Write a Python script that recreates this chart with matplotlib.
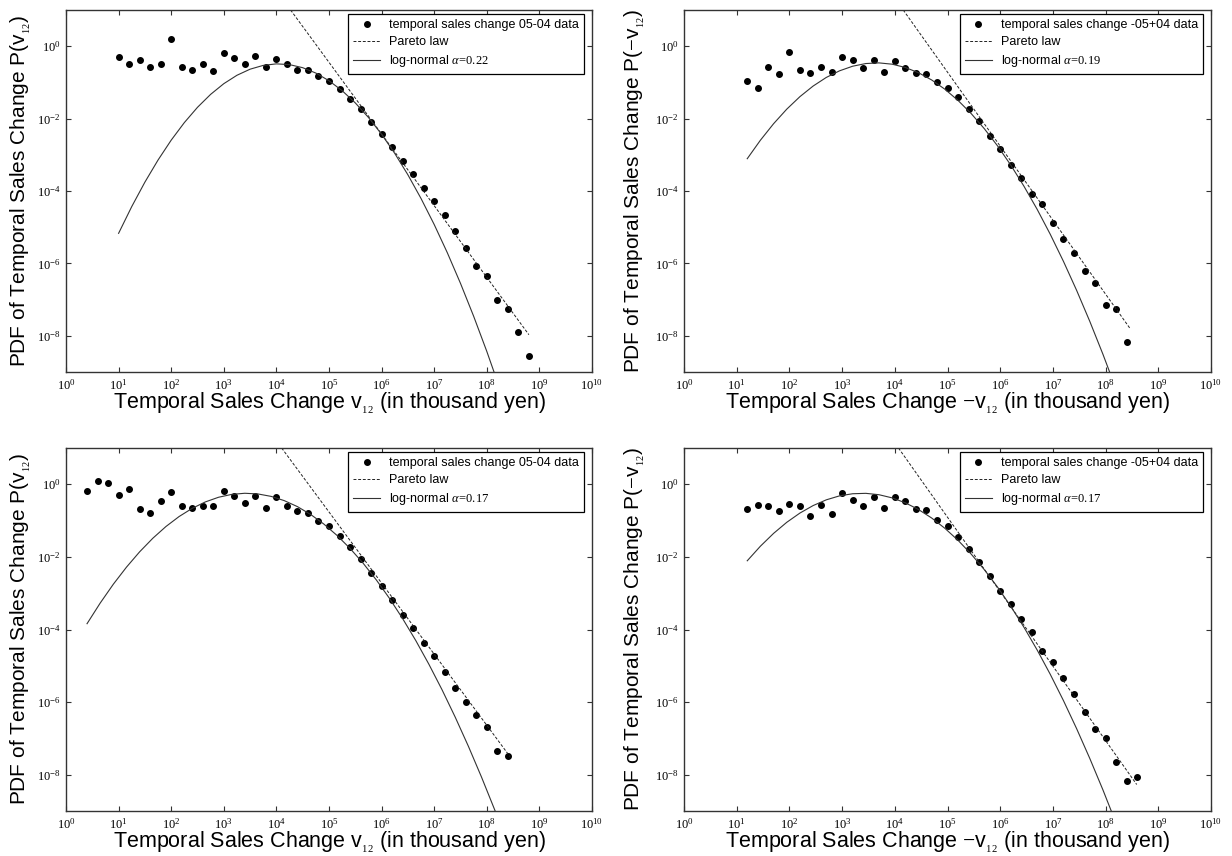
import numpy as np
import matplotlib.pyplot as plt
from matplotlib.ticker import FixedLocator, FuncFormatter, NullLocator

plt.rcParams['font.family'] = ['Liberation Sans', 'DejaVu Sans']
plt.rcParams['mathtext.fontset'] = 'custom'
plt.rcParams['mathtext.rm'] = 'Liberation Serif'
plt.rcParams['mathtext.it'] = 'Liberation Serif:italic'
plt.rcParams['mathtext.bf'] = 'Liberation Serif:bold'

# everything below is log10 of what was read off the picture
# panel a : v12 > 0, 05-04
a_logx = [1.0, 1.2, 1.4, 1.6, 1.8, 2.0, 2.2, 2.4, 2.6, 2.8, 3.0, 3.2, 3.4, 3.6, 3.8, 4.0,
          4.2, 4.4, 4.6, 4.8, 5.0, 5.2, 5.4, 5.6, 5.8, 6.0, 6.2, 6.4, 6.6, 6.8, 7.0, 7.2,
          7.4, 7.6, 7.8, 8.0, 8.2, 8.4, 8.6, 8.8]
a_logp = [-0.285, -0.49, -0.38, -0.58, -0.48, 0.19, -0.58, -0.65, -0.505, -0.68, -0.18, -0.33,
          -0.49, -0.26, -0.58, -0.35, -0.505, -0.65, -0.65, -0.83, -0.95, -1.18, -1.46, -1.745,
          -2.10, -2.42, -2.78, -3.16, -3.535, -3.91, -4.29, -4.67, -5.10, -5.58, -6.06, -6.36,
          -7.01, -7.26, -7.89, -8.57]
a_pareto_x = [4.27, 8.80]
a_pareto_p = [1.0, -7.97]
a_ln_x = [1.0, 1.25, 1.5, 1.75, 2.0, 2.25, 2.5, 2.75, 3.0, 3.25, 3.5, 3.75, 4.0, 4.25, 4.5,
          4.75, 5.0, 5.25, 5.5, 5.75, 6.0, 6.25, 6.5, 6.75, 7.0, 7.25, 7.5, 7.75, 8.0, 8.25]
a_ln_p = [-5.169, -4.430, -3.755, -3.144, -2.595, -2.110, -1.688, -1.330, -1.035, -0.803,
          -0.635, -0.530, -0.488, -0.509, -0.594, -0.742, -0.954, -1.229, -1.567, -1.968,
          -2.433, -2.961, -3.553, -4.208, -4.926, -5.707, -6.552, -7.460, -8.431, -9.466]

# panel b : v12 < 0, -05+04
b_logx = [1.2, 1.4, 1.6, 1.8, 2.0, 2.2, 2.4, 2.6, 2.8, 3.0, 3.2, 3.4, 3.6, 3.8, 4.0, 4.2,
          4.4, 4.6, 4.8, 5.0, 5.2, 5.4, 5.6, 5.8, 6.0, 6.2, 6.4, 6.6, 6.8, 7.0, 7.2, 7.4,
          7.6, 7.8, 8.0, 8.2, 8.4]
b_logp = [-0.955, -1.157, -0.58, -0.78, -0.156, -0.66, -0.75, -0.57, -0.725, -0.31, -0.385,
          -0.59, -0.376, -0.70, -0.41, -0.59, -0.74, -0.78, -1.00, -1.157, -1.41, -1.73,
          -2.075, -2.49, -2.85, -3.28, -3.645, -4.07, -4.37, -4.885, -5.32, -5.71, -6.22,
          -6.53, -7.15, -7.26, -8.16]
b_pareto_x = [4.16, 8.46]
b_pareto_p = [1.0, -7.79]
b_ln_x = [1.2, 1.45, 1.7, 1.95, 2.2, 2.45, 2.7, 2.95, 3.2, 3.45, 3.7, 3.95, 4.2, 4.45, 4.7,
          4.95, 5.2, 5.45, 5.7, 5.95, 6.2, 6.45, 6.7, 6.95, 7.2, 7.45, 7.7, 7.95, 8.2]
b_ln_p = [-3.108, -2.597, -2.141, -1.739, -1.393, -1.101, -0.863, -0.681, -0.553, -0.479,
          -0.461, -0.497, -0.588, -0.733, -0.933, -1.188, -1.498, -1.862, -2.281, -2.754,
          -3.283, -3.866, -4.503, -5.196, -5.943, -6.744, -7.601, -8.512, -9.478]

# panel c : v12 > 0, 05-04 (second fit)
c_logx = [0.4, 0.6, 0.8, 1.0, 1.2, 1.4, 1.6, 1.8, 2.0, 2.2, 2.4, 2.6, 2.8, 3.0, 3.2, 3.4,
          3.6, 3.8, 4.0, 4.2, 4.4, 4.6, 4.8, 5.0, 5.2, 5.4, 5.6, 5.8, 6.0, 6.2, 6.4, 6.6,
          6.8, 7.0, 7.2, 7.4, 7.6, 7.8, 8.0, 8.2, 8.4]
c_logp = [-0.174, 0.10, 0.027, -0.293, -0.128, -0.686, -0.778, -0.458, -0.22, -0.604, -0.659,
          -0.595, -0.604, -0.183, -0.311, -0.522, -0.311, -0.65, -0.357, -0.586, -0.741,
          -0.778, -0.998, -1.135, -1.428, -1.73, -2.06, -2.435, -2.81, -3.20, -3.59, -3.96,
          -4.385, -4.73, -5.17, -5.61, -6.00, -6.36, -6.69, -7.36, -7.48]
c_pareto_x = [4.10, 8.44]
c_pareto_p = [1.0, -7.50]
c_ln_x = [0.4, 0.65, 0.9, 1.15, 1.4, 1.65, 1.9, 2.15, 2.4, 2.65, 2.9, 3.15, 3.4, 3.65, 3.9,
          4.15, 4.4, 4.65, 4.9, 5.15, 5.4, 5.65, 5.9, 6.15, 6.4, 6.65, 6.9, 7.15, 7.4, 7.65,
          7.9, 8.15, 8.4]
c_ln_p = [-3.840, -3.272, -2.752, -2.282, -1.860, -1.487, -1.163, -0.888, -0.662, -0.485,
          -0.357, -0.278, -0.247, -0.266, -0.333, -0.450, -0.615, -0.830, -1.093, -1.405,
          -1.766, -2.176, -2.635, -3.143, -3.700, -4.305, -4.960, -5.663, -6.416, -7.217,
          -8.068, -8.967, -9.915]

# panel d : v12 < 0, -05+04 (second fit)
d_logx = [1.2, 1.4, 1.6, 1.8, 2.0, 2.2, 2.4, 2.6, 2.8, 3.0, 3.2, 3.4, 3.6, 3.8, 4.0, 4.2,
          4.4, 4.6, 4.8, 5.0, 5.2, 5.4, 5.6, 5.8, 6.0, 6.2, 6.4, 6.6, 6.8, 7.0, 7.2, 7.4,
          7.6, 7.8, 8.0, 8.2, 8.4, 8.6]
d_logp = [-0.677, -0.567, -0.604, -0.723, -0.54, -0.586, -0.879, -0.558, -0.815, -0.247,
          -0.43, -0.586, -0.348, -0.641, -0.339, -0.467, -0.677, -0.705, -0.989, -1.135,
          -1.465, -1.794, -2.14, -2.535, -2.95, -3.286, -3.71, -4.065, -4.58, -4.90, -5.34,
          -5.78, -6.26, -6.73, -6.99, -7.66, -8.16, -8.07]
d_pareto_x = [4.07, 8.59]
d_pareto_p = [1.0, -8.27]
d_ln_x = [1.2, 1.45, 1.7, 1.95, 2.2, 2.45, 2.7, 2.95, 3.2, 3.45, 3.7, 3.95, 4.2, 4.45, 4.7,
          4.95, 5.2, 5.45, 5.7, 5.95, 6.2, 6.45, 6.7, 6.95, 7.2, 7.45, 7.7, 7.95, 8.2]
d_ln_p = [-2.107, -1.705, -1.352, -1.047, -0.792, -0.586, -0.428, -0.319, -0.260, -0.249,
          -0.287, -0.374, -0.510, -0.695, -0.929, -1.212, -1.543, -1.924, -2.354, -2.832,
          -3.360, -3.936, -4.561, -5.235, -5.958, -6.731, -7.552, -8.421, -9.340]

pos_data = 'temporal sales change 05-04 data'
neg_data = 'temporal sales change -05+04 data'
alphas = ['0.22', '0.19', '0.17', '0.17']
xlab_pos = r'Temporal Sales Change v$_{_{\mathrm{12}}}$ (in thousand yen)'
xlab_neg = r'Temporal Sales Change $-$v$_{_{\mathrm{12}}}$ (in thousand yen)'
ylab_pos = r'PDF of Temporal Sales Change P(v$_{_{\mathrm{12}}}$)'
ylab_neg = r'PDF of Temporal Sales Change P($-$v$_{_{\mathrm{12}}}$)'

panels = [
    (a_logx, a_logp, a_pareto_x, a_pareto_p, a_ln_x, a_ln_p, pos_data, xlab_pos, ylab_pos),
    (b_logx, b_logp, b_pareto_x, b_pareto_p, b_ln_x, b_ln_p, neg_data, xlab_neg, ylab_neg),
    (c_logx, c_logp, c_pareto_x, c_pareto_p, c_ln_x, c_ln_p, pos_data, xlab_pos, ylab_pos),
    (d_logx, d_logp, d_pareto_x, d_pareto_p, d_ln_x, d_ln_p, neg_data, xlab_neg, ylab_neg),
]

W, H = 1232, 856
# axes boxes in pixels: left, top, right, bottom
boxes = [(66, 10, 592, 372), (684, 10, 1211, 372),
         (66, 448, 592, 811), (684, 448, 1211, 811)]

fig = plt.figure(figsize=(W / 100, H / 100), dpi=100)

def tick_fmt(v, pos):
    return r'$\mathrm{10^{%d}}$' % int(round(np.log10(v)))

for i, (lx, lp, px, pp, nx, npv, dlab, xlab, ylab) in enumerate(panels):
    l, t, r, b = boxes[i]
    ax = fig.add_axes([l / W, 1 - b / H, (r - l) / W, (b - t) / H])
    ax.set_xscale('log')
    ax.set_yscale('log')
    ax.plot(10.0 ** np.array(lx), 10.0 ** np.array(lp), 'o', color='k', ms=4.0,
            label=dlab)
    ax.plot(10.0 ** np.array(px), 10.0 ** np.array(pp), color='#222222', lw=0.7,
            dashes=(3, 1.8), label='Pareto law')
    ax.plot(10.0 ** np.array(nx), 10.0 ** np.array(npv), '-', color='#333333', lw=0.8,
            label=r'log-normal $\alpha\!=\!%s$' % alphas[i])
    ax.set_xlim(1, 1e10)
    ax.set_ylim(1e-9, 10)

    ax.xaxis.set_major_locator(FixedLocator([10.0 ** k for k in range(0, 11)]))
    ax.yaxis.set_major_locator(FixedLocator([10.0 ** k for k in (-8, -6, -4, -2, 0)]))
    ax.xaxis.set_minor_locator(NullLocator())
    ax.yaxis.set_minor_locator(NullLocator())
    ax.xaxis.set_major_formatter(FuncFormatter(tick_fmt))
    ax.yaxis.set_major_formatter(FuncFormatter(tick_fmt))
    ax.tick_params(direction='in', top=True, right=True, length=3.5, width=0.8,
                   labelsize=9, pad=4, color='#333333')
    for s in ax.spines.values():
        s.set_linewidth(1.0)
        s.set_color('#333333')

    ax.set_xlabel(xlab, fontsize=15.5)
    ax.set_ylabel(ylab, fontsize=15)
    ax.xaxis.set_label_coords(0.5, -0.052)
    ax.yaxis.set_label_coords(-0.062 if i % 2 == 0 else -0.07, 0.5)

    leg = ax.legend(loc='upper right', bbox_to_anchor=(0.985, 0.989), borderaxespad=0,
                    fontsize=9, fancybox=False, framealpha=1, edgecolor='k',
                    handlelength=2.2, handletextpad=0.7, borderpad=0.4,
                    labelspacing=0.4, numpoints=1)
    leg.get_frame().set_linewidth(0.9)

fig.savefig('out.png', dpi=100)
